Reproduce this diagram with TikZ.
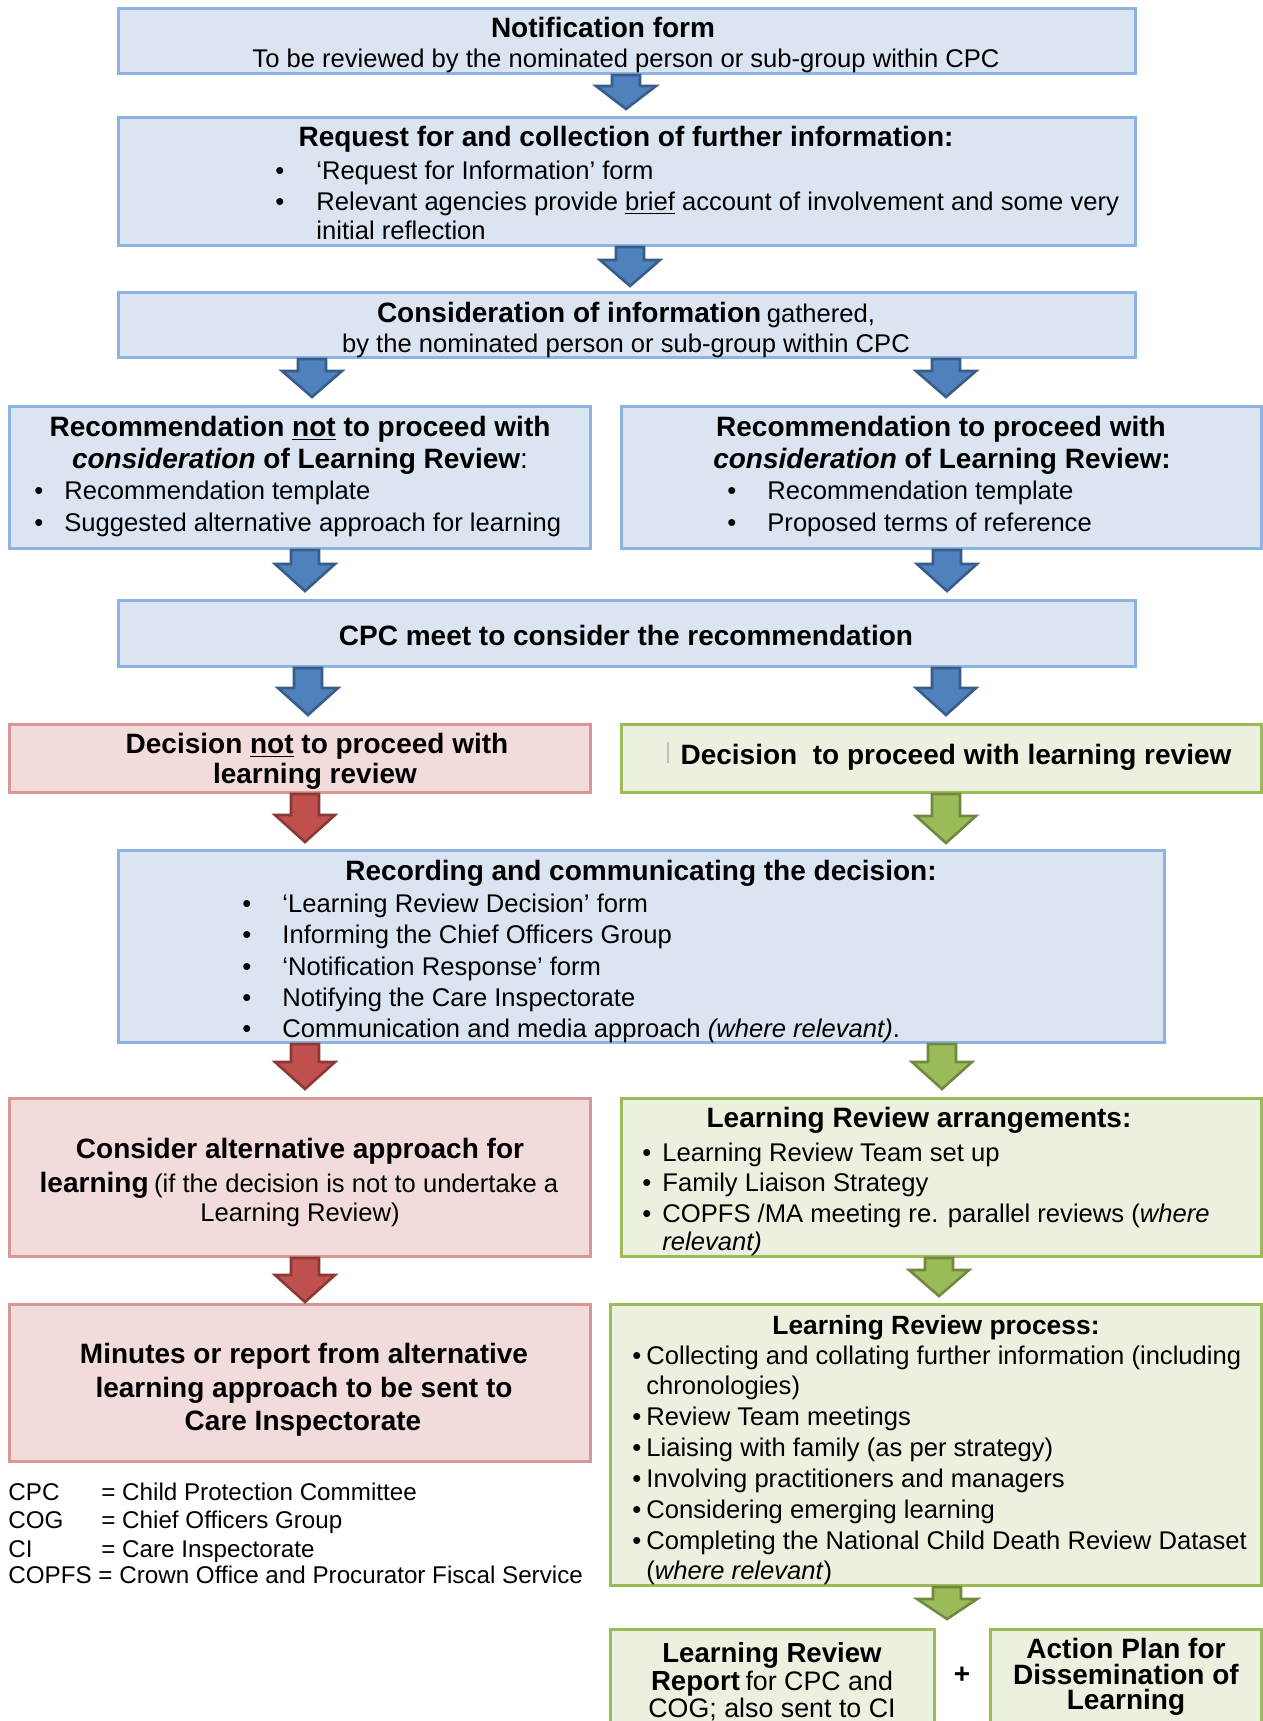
\documentclass[tikz,border=0pt]{standalone}
\usepackage{fontspec}
\setmainfont{Liberation Sans}
\definecolor{bfill}{HTML}{DBE5F1}
\definecolor{bline}{HTML}{8DB3E2}
\definecolor{rfill}{HTML}{F2DCDB}
\definecolor{rline}{HTML}{D99694}
\definecolor{gfill}{HTML}{EBF1DE}
\definecolor{gline}{HTML}{9BBB59}
\definecolor{abfill}{HTML}{4F81BD}
\definecolor{abline}{HTML}{385D8A}
\definecolor{arfill}{HTML}{C0504D}
\definecolor{arline}{HTML}{8C3836}
\definecolor{agfill}{HTML}{9BBB59}
\definecolor{agline}{HTML}{71893F}
\newcommand\fb{\fontsize{12.8}{15}\selectfont}
\newcommand\fa{\fontsize{12.1}{14}\selectfont}
\newcommand\ft{\fontsize{14}{16}\selectfont\bfseries}
\newcounter{tn}
\newcommand\bx[6]{\node[#2, minimum width={(#5-#3-3)*0.5pt}, minimum height={(#6-#4-3)*0.5pt}] (#1) at ({(#3+#5)/2},{(#4+#6)/2}) {};}
\newcommand\tc[3]{\stepcounter{tn}\node[tcen] (t\arabic{tn}) at (#1,#2) {#3};}
\newcommand\tw[3]{\stepcounter{tn}\node[twest] (t\arabic{tn}) at (#1,#2) {#3};}
\newcommand\bul[4]{\tw{#1}{#3}{\fb •}\tw{#2}{#3}{\fb #4}}
\newcommand\barrow[5]{\draw[#1] (#2-14,#3) -- (#2+14,#3) -- (#2+14,#4-#5) -- (#2+30,#4-#5) -- (#2,#4) -- (#2-30,#4-#5) -- (#2-14,#4-#5) -- cycle;}
\begin{document}
\begin{tikzpicture}[x=0.5pt,y=-0.5pt,
  boxbase/.style={rectangle, draw, line width=1.5pt, inner sep=0pt},
  bluebox/.style={boxbase, fill=bfill, draw=bline},
  redbox/.style={boxbase, fill=rfill, draw=rline},
  greenbox/.style={boxbase, fill=gfill, draw=gline},
  barr/.style={fill=abfill, draw=abline, line width=1.3pt, line join=miter},
  rarr/.style={fill=arfill, draw=arline, line width=1.3pt, line join=miter},
  garr/.style={fill=agfill, draw=agline, line width=1.3pt, line join=miter},
  tcen/.style={inner sep=0pt, anchor=base},
  twest/.style={inner sep=0pt, anchor=base west}]
\useasboundingbox (0,0) rectangle (1263,1721);
\clip (0,0) rectangle (1263,1721);
\fill[white] (0,0) rectangle (1263,1721);
% boxes
\bx{notif}{bluebox}{117}{7}{1137}{75}
\bx{req}{bluebox}{117}{116}{1137}{247}
\bx{cons}{bluebox}{117}{291}{1137}{359}
\bx{recL}{bluebox}{8}{405}{592}{550}
\bx{recR}{bluebox}{620}{405}{1263}{550}
\bx{cpc}{bluebox}{117}{599}{1137}{668}
\bx{decL}{redbox}{8}{723}{592}{794}
\bx{decR}{greenbox}{620}{723}{1263}{794}
\bx{rec}{bluebox}{117}{849}{1166}{1044}
\bx{alt}{redbox}{8}{1097}{592}{1258}
\bx{arr}{greenbox}{620}{1097}{1263}{1258}
\bx{mins}{redbox}{8}{1303}{592}{1463}
\bx{proc}{greenbox}{609}{1303}{1263}{1587}
\bx{rep}{greenbox}{609}{1628}{936}{1760}
\bx{act}{greenbox}{989}{1628}{1263}{1760}
% arrows
\barrow{barr}{626}{75}{109}{23}
\barrow{barr}{630}{247}{286}{26}
\barrow{barr}{312}{359}{397}{26}
\barrow{barr}{946}{359}{397}{26}
\barrow{barr}{305}{550}{591}{27}
\barrow{barr}{947}{550}{591}{27}
\barrow{barr}{308}{668}{715}{27}
\barrow{barr}{946}{668}{715}{27}
\barrow{rarr}{305}{794}{842}{27}
\barrow{rarr}{305}{1044}{1089}{27}
\barrow{rarr}{305}{1258}{1302}{27}
\barrow{garr}{946}{794}{843}{27}
\barrow{garr}{942}{1044}{1089}{27}
\barrow{garr}{939}{1258}{1296}{26}
\barrow{garr}{947}{1587}{1619}{20}
% texts
\tc{603}{37}{\ft Notification form}
\tc{626}{67}{\fb To be reviewed by the nominated person or sub-group within CPC}
\tc{626}{146}{\ft Request for and collection of further information:}
\bul{275}{316}{179}{‘Request for Information’ form}
\bul{275}{316}{210}{Relevant agencies provide \underline{brief} account of involvement and some very}
\tw{316}{239}{\fb initial reflection}
\tc{626}{322}{{\ft Consideration of information} {\fb gathered,}}
\tc{626}{352}{\fb by the nominated person or sub-group within CPC}
\tc{300}{436}{\ft Recommendation \underline{not} to proceed with}
\tc{300}{468}{{\ft\itshape consideration}{\ft{} of Learning Review}{\ft\mdseries :}}
\bul{34}{64}{499}{Recommendation template}
\bul{34}{64}{531}{Suggested alternative approach for learning}
\tc{941}{436}{\ft Recommendation to proceed with}
\tc{942}{468}{{\ft\itshape consideration}{\ft{} of Learning Review:}}
\bul{727}{767}{499}{Recommendation template}
\bul{727}{767}{531}{Proposed terms of reference}
\tc{626}{645}{\ft CPC meet to consider the recommendation}
\tc{317}{753}{\ft Decision \underline{not} to proceed with}
\tc{315}{783}{\ft learning review}
\draw[black!25, line width=0.6pt] (668,742) -- (668,763);
\tc{956}{764}{\ft Decision\ \ to proceed with learning review}
\tc{641}{880}{\ft Recording and communicating the decision:}
\bul{242}{282}{912}{‘Learning Review Decision’ form}
\bul{242}{282}{943}{Informing the Chief Officers Group}
\bul{242}{282}{975}{‘Notification Response’ form}
\bul{242}{282}{1006}{Notifying the Care Inspectorate}
\bul{242}{282}{1037}{Communication and media approach \textit{(where relevant)}.}
\tc{300}{1158}{\ft Consider alternative approach for}
\tc{299}{1192}{{\ft learning} {\fb (if the decision is not to undertake a}}
\tc{300}{1221}{\fb Learning Review)}
\tc{919}{1127}{\ft Learning Review arrangements:}
\bul{642}{662}{1161}{Learning Review Team set up}
\bul{642}{662}{1191}{Family Liaison Strategy}
\bul{642}{662}{1222}{COPFS /MA meeting re. parallel reviews (\textit{where}}
\tw{662}{1250}{\fb\itshape relevant)}
\tc{304}{1363}{\ft Minutes or report from alternative}
\tc{304}{1397}{\ft learning approach to be sent to}
\tc{303}{1430}{\ft Care Inspectorate}
\tc{936}{1334}{\fontsize{13.2}{15}\selectfont\bfseries Learning Review process:}
\bul{632}{646}{1364}{Collecting and collating further information (including}
\tw{646}{1394}{\fb chronologies)}
\bul{632}{646}{1425}{Review Team meetings}
\bul{632}{646}{1456}{Liaising with family (as per strategy)}
\bul{632}{646}{1487}{Involving practitioners and managers}
\bul{632}{646}{1518}{Considering emerging learning}
\bul{632}{646}{1549}{Completing the National Child Death Review Dataset}
\tw{646}{1579}{\fb (\textit{where relevant})}
\tw{8}{1500}{\fa CPC}\tw{101}{1500}{\fa = Child Protection Committee}
\tw{8}{1528}{\fa COG}\tw{101}{1528}{\fa = Chief Officers Group}
\tw{8}{1557}{\fa CI}\tw{101}{1557}{\fa = Care Inspectorate}
\tw{8}{1583}{\fa COPFS = Crown Office and Procurator Fiscal Service}
\tc{772}{1662}{\fontsize{13.8}{15}\selectfont\bfseries Learning Review}
\tc{772}{1690}{{\fontsize{13.8}{15}\selectfont\bfseries Report} {\fontsize{13.4}{15}\selectfont for CPC and}}
\tc{772}{1717}{\fontsize{13.4}{15}\selectfont COG; also sent to CI}
\stepcounter{tn}\node[inner sep=0pt] (plus) at (962,1675) {\ft +};
\tc{1126}{1658}{\ft Action Plan for}
\tc{1126}{1684}{\ft Dissemination of}
\tc{1126}{1709}{\ft Learning}
\end{tikzpicture}
\end{document}
